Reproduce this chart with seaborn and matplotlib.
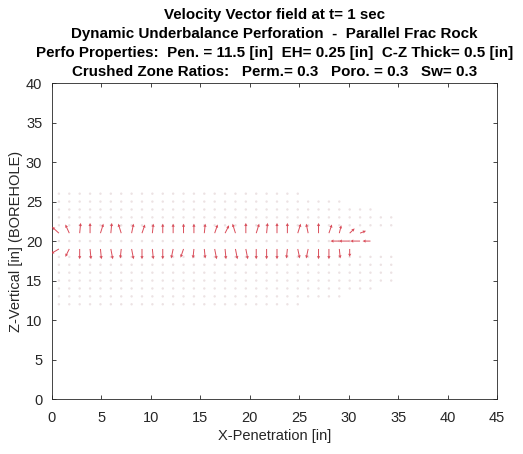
import numpy as np
import pandas as pd
import matplotlib
matplotlib.use("Agg")
import matplotlib.pyplot as plt
import seaborn as sns

# ---- data ----
x_grid = [0.7, 1.75, 2.8, 3.85, 4.9, 5.95, 7.0, 8.05, 9.1, 10.15, 11.2, 12.25,
          13.3, 14.35, 15.4, 16.45, 17.5, 18.55, 19.6, 20.65, 21.7, 22.75, 23.8,
          24.85, 25.9, 26.95, 28.0, 29.05, 30.1, 31.15, 32.2, 33.25, 34.3]

# upper strong row (z = 21), arrows point up
upper_z = 21.0
upper_u = [-0.7, -0.4, 0.1, 0.0, 0.3, 0.1, -0.3, 0.2, 0.3, 0.1, 0.0, 0.0, 0.0, 0.0, 0.1,
           0.3, 0.4, -0.3, 0.0, 0.3, 0.1, 0.0, 0.0, 0.3, -0.2, 0.0, 0.3, 0.2, 0.5, 0.6]
upper_v = [0.8, 1.1, 1.3, 1.3, 1.2, 1.3, 1.2, 1.2, 1.1, 1.2, 1.2, 1.2, 1.2, 1.2, 1.2,
           1.1, 1.0, 1.2, 1.3, 1.2, 1.3, 1.3, 1.3, 1.2, 1.2, 1.3, 1.1, 1.0, 0.6, 0.3]

# lower strong row (z = 19), arrows point down
lower_z = 19.0
lower_u = [-0.8, -0.4, 0.0, 0.1, 0.1, 0.2, -0.1, 0.2, 0.0, 0.1, 0.0, -0.2, -0.3, -0.1, 0.1,
           0.2, 0.1, 0.2, 0.2, 0.0, 0.0, 0.0, -0.1, 0.2, -0.2, 0.0, 0.0, 0.1, 0.0]
lower_v = [-0.6, -1.0, -1.3, -1.3, -1.3, -1.3, -1.2, -1.3, -1.3, -1.3, -1.3, -1.2, -1.1, -1.2, -1.2,
           -1.3, -1.3, -1.3, -1.3, -1.3, -1.3, -1.3, -1.2, -1.2, -1.2, -1.3, -1.3, -1.2, -1.0]

# middle row (z = 20): horizontal arrows near the perforation tip
mid_z = 20.0
mid_x = [29.05, 30.1, 31.15, 32.2]
mid_u = [-0.9, -1.1, -1.0, -0.8]
mid_v = [0.0, 0.0, 0.0, 0.0]

# faint (near-zero) vectors
faint_rows = [12, 13, 14, 15, 16, 17, 18, 20, 22, 23, 24, 25, 26]
faint_ncols = [24, 28, 31, 33, 33, 33, 33, 29, 33, 33, 31, 28, 24]

xticks = [0, 5, 10, 15, 20, 25, 30, 35, 40, 45]
yticks = [0, 5, 10, 15, 20, 25, 30, 35, 40]

title_lines = ["Velocity Vector field at t= 1 sec",
               "Dynamic Underbalance Perforation  -  Parallel Frac Rock",
               "Perfo Properties:  Pen. = 11.5 [in]  EH= 0.25 [in]  C-Z Thick= 0.5 [in]",
               "Crushed Zone Ratios:   Perm.= 0.3   Poro. = 0.3   Sw= 0.3"]

# ---- plot ----
sns.set_style("white")
plt.rcParams['font.family'] = ['Liberation Sans', 'DejaVu Sans']

fig = plt.figure(figsize=(5.23, 4.54), dpi=100)
ax = fig.add_axes([0.0994, 0.121, 0.851, 0.696])

faint_df = pd.DataFrame({
    "x": [x_grid[i] for r, n in zip(faint_rows, faint_ncols) for i in range(n)],
    "z": [r for r, n in zip(faint_rows, faint_ncols) for i in range(n)],
})
sns.scatterplot(data=faint_df, x="x", y="z", ax=ax, s=3, color="#ece2e3",
                edgecolor="none", legend=False, zorder=1)

red = "#d63a48"
qk = dict(angles="xy", scale_units="xy", scale=1, color=red, width=0.0022,
          headwidth=3.2, headlength=3.2, headaxislength=3.0, alpha=0.9, zorder=3)
ax.quiver(x_grid[:len(upper_u)], [upper_z] * len(upper_u), upper_u, upper_v, **qk)
ax.quiver(x_grid[:len(lower_u)], [lower_z] * len(lower_u), lower_u, lower_v, **qk)
ax.quiver(mid_x, [mid_z] * len(mid_x), mid_u, mid_v, **qk)

ax.set_xlim(0, 45)
ax.set_ylim(0, 40)
ax.set_xticks(xticks)
ax.set_yticks(yticks)
ax.tick_params(direction="in", length=3, width=0.6, colors="#262626",
               labelsize=10.5, top=True, right=True, bottom=True, left=True,
               labeltop=False, labelright=False)
ax.tick_params(axis="x", pad=8.5)
ax.tick_params(axis="y", pad=7)
for sp in ax.spines.values():
    sp.set_color("#262626")
    sp.set_linewidth(0.6)
ax.set_xlabel("X-Penetration [in]", fontsize=10.5, color="#262626", labelpad=3)
ax.set_ylabel("Z-Vertical [in] (BOREHOLE)", fontsize=10.5, color="#262626", labelpad=2)
ax.set_title("\n".join(title_lines), fontsize=10.9, fontweight="bold",
             color="black", linespacing=1.47, pad=5)

fig.savefig("out.png", dpi=100)
